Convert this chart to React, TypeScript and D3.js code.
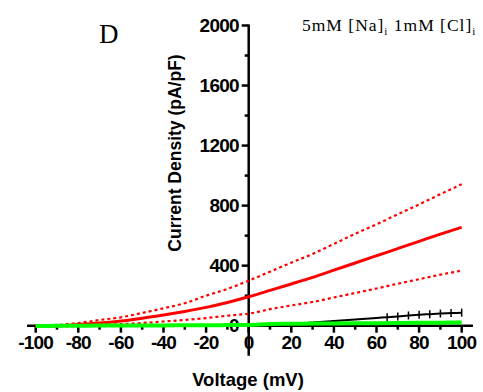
import React from "react";
import * as d3 from "d3";

const voltages = [-100, -90, -80, -70, -60, -50, -40, -30, -20, -10, 0, 10, 20, 30, 40, 50, 60, 70, 80, 90, 100];
const redMean = [-5, 0, 8, 18, 31, 50, 71, 95, 122, 155, 193, 235, 278, 322, 370, 418, 466, 514, 562, 610, 656];
const redUpper = [0, 5, 18, 38, 56, 85, 116, 150, 200, 245, 300, 360, 420, 478, 545, 612, 676, 742, 808, 876, 943];
const redLower = [-5, -5, -2, 3, 10, 18, 28, 38, 51, 67, 80, 110, 135, 158, 188, 218, 248, 280, 310, 340, 367];
const blackV = [-100, -90, -80, -70, -60, -50, -40, -30, -20, -10, 0, 10, 20, 30, 40, 50, 60, 65, 70, 75, 80, 85, 90, 95, 100];
const blackMean = [3, 2, 1, 1, 1, 1, 1, 1, 1, 1, 2, 5, 10, 22, 32, 42, 52, 57, 62, 68, 73, 77, 81, 84, 87];
const greenMean = [-2, -1, 0, 1, 1, 2, 2, 3, 3, 4, 5, 12, 13, 14, 15, 16, 17, 18, 19, 20, 21];

const xTicks = [-100, -80, -60, -40, -20, 0, 20, 40, 60, 80, 100];
const xMinor = [-90, -70, -50, -30, -10, 10, 30, 50, 70, 90];
const yTicks = [0, 400, 800, 1200, 1600, 2000];
const yMinor = [200, 600, 1000, 1400, 1800];

export default function App() {
  const W = 483, H = 392;
  const x = d3.scaleLinear().domain([-100, 100]).range([35.7, 461.7]);
  const y = d3.scaleLinear().domain([0, 2000]).range([325.7, 25.5]);
  const x0 = x(0);
  const y0 = y(0);
  const line = d3.line<[number, number]>().x(d => x(d[0])).y(d => y(d[1])).curve(d3.curveMonotoneX);
  const pts = (vs: number[], arr: number[]) => vs.map((v, i) => [v, arr[i]] as [number, number]);
  const font = "Arial, 'Liberation Sans', sans-serif";
  const serif = "'Times New Roman', 'Liberation Serif', serif";
  return (
    <svg width={W} height={H} style={{ position: "absolute", left: 0, top: 0, background: "#fff" }}>
      <rect width={W} height={H} fill="#fff" />
      {/* x axis */}
      <line x1={27} x2={473} y1={y0} y2={y0} stroke="#000" strokeWidth={2.5} />
      {xTicks.map(t => (
        <line key={"xt" + t} x1={x(t)} x2={x(t)} y1={y0} y2={y0 + 7} stroke="#000" strokeWidth={2.5} />
      ))}
      {xMinor.map(t => (
        <line key={"xm" + t} x1={x(t)} x2={x(t)} y1={y0} y2={y0 + 4} stroke="#000" strokeWidth={2.5} />
      ))}
      {xTicks.map(t => (
        <text key={"xl" + t} x={x(t)} y={348.5} textAnchor="middle" fontFamily={font} fontWeight="bold" fontSize={19} letterSpacing={-0.8} fill="#000">
          {t}
        </text>
      ))}
      {/* y axis */}
      <line x1={x0} x2={x0} y1={y(2000) - 1} y2={y(-200)} stroke="#000" strokeWidth={2.5} />
      {yTicks.map(t => (
        <line key={"yt" + t} x1={x0 - 7} x2={x0} y1={y(t)} y2={y(t)} stroke="#000" strokeWidth={2.5} />
      ))}
      {yMinor.map(t => (
        <line key={"ym" + t} x1={x0 - 4} x2={x0} y1={y(t)} y2={y(t)} stroke="#000" strokeWidth={2.5} />
      ))}
      {yTicks.map(t => (
        <text key={"yl" + t} x={x0 - 10} y={y(t) + 6.5} textAnchor="end" fontFamily={font} fontWeight="bold" fontSize={19} letterSpacing={-0.8} fill="#000">
          {t}
        </text>
      ))}
      {/* data */}
      <path d={line(pts(voltages, redUpper)) || ""} fill="none" stroke="#ff0000" strokeWidth={2.2} strokeDasharray="3 3" />
      <path d={line(pts(voltages, redLower)) || ""} fill="none" stroke="#ff0000" strokeWidth={2.2} strokeDasharray="3 3" />
      <path d={line(pts(voltages, redMean)) || ""} fill="none" stroke="#ff0000" strokeWidth={3} />
      <path d={line(pts(blackV, blackMean)) || ""} fill="none" stroke="#000" strokeWidth={2} />
      {blackV.filter(v => v >= 65).map((v, i) => {
        const val = blackMean[blackV.indexOf(v)];
        return <line key={i} x1={x(v)} x2={x(v)} y1={y(val) - 4} y2={y(val) + 4} stroke="#000" strokeWidth={1.5} />;
      })}
      <path d={line(pts(voltages, greenMean)) || ""} fill="none" stroke="#00ff00" strokeWidth={4} />
      {/* axis titles */}
      <text x={248} y={386} textAnchor="middle" fontFamily={font} fontWeight="bold" fontSize={18.5} fill="#000">
        Voltage (mV)
      </text>
      <text transform={`translate(181,153) rotate(-90)`} textAnchor="middle" fontFamily={font} fontWeight="bold" fontSize={17.5} fill="#000">
        Current Density (pA/pF)
      </text>
      {/* panel label and title */}
      <text x={99} y={43} fontFamily={serif} fontSize={27} fill="#000">D</text>
      <text x={302} y={31} fontFamily={serif} fontSize={17.5} letterSpacing={1} fill="#000">
        5mM [Na]<tspan fontSize={11} dy={4}>i</tspan>
        <tspan dy={-4}> 1mM [Cl]</tspan>
        <tspan fontSize={11} dy={4}>i</tspan>
      </text>
    </svg>
  );
}
